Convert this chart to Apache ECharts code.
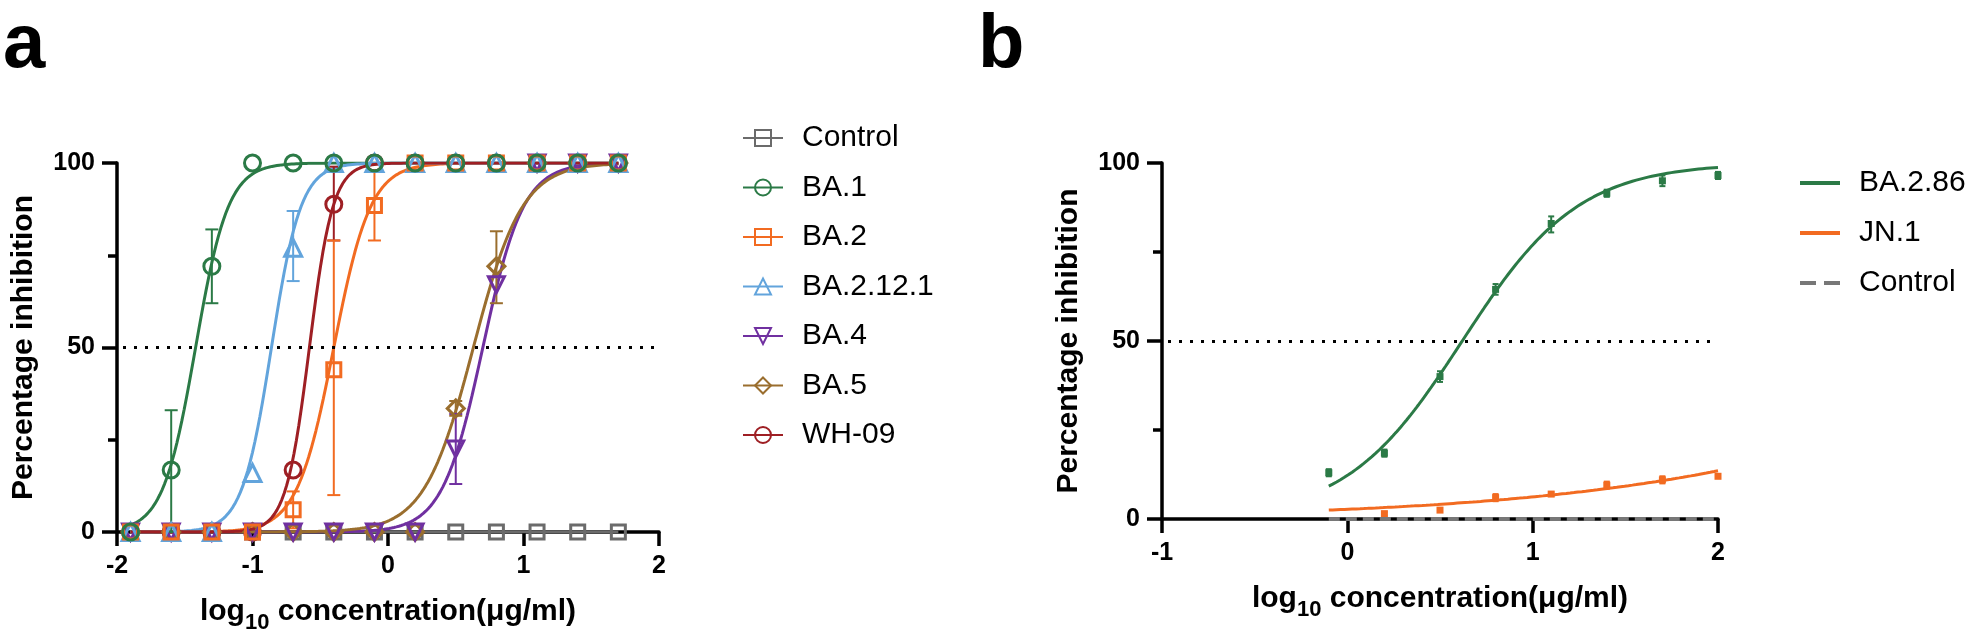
<!DOCTYPE html>
<html><head><meta charset="utf-8">
<script src="https://cdn.jsdelivr.net/npm/echarts@6/dist/echarts.min.js"></script>
<style>html,body{margin:0;padding:0;background:#fff}#c{width:1975px;height:635px}</style>
</head><body><div id="c"></div>
<script>
const FONT = '"Liberation Sans", Arial, Helvetica, sans-serif';

// ---------- Panel a data ----------
const xA = [-1.9, -1.6, -1.3, -1.0, -0.7, -0.4, -0.1, 0.2, 0.5, 0.8, 1.1, 1.4, 1.7];
const controlA = [0, 0, 0, 0, 0, 0, 0, 0, 0, 0, 0, 0, 0];
const ba1 = [0, 16.8, 72, 100, 100, 100, 100, 100, 100, 100, 100, 100, 100];
const ba2 = [0, 0, 0, 0, 6, 44, 88.5, 100, 100, 100, 100, 100, 100];
const ba2121 = [0, 0, 0, 16, 77, 100, 100, 100, 100, 100, 100, 100, 100];
const ba4 = [0, 0, 0, 0, 0, 0, 0, 0, 22.5, 67, 100, 100, 100];
const ba5 = [0, 0, 0, 0, 0, 0, 0, 0, 33.5, 72, 100, 100, 100];
const wh09 = [0, 0, 0, 0, 16.8, 88.8, 100, 100, 100, 100, 100, 100, 100];
// error bars [x, low, high]
const ba1Err = [[-1.6, 0, 33], [-1.3, 62, 82]];
const ba2Err = [[-0.7, 1, 11], [-0.4, 10, 79], [-0.1, 79, 98]];
const ba2121Err = [[-0.7, 68, 87]];
const ba4Err = [[0.5, 13, 32]];
const ba5Err = [[0.5, 31.5, 35.5], [0.8, 62, 81.5]];
const wh09Err = [[-0.4, 79, 99]];
// fitted 4PL curve parameters (bottom 0, top 100)
const fitNamesA = ['BA.1', 'BA.2', 'BA.2.12.1', 'BA.4', 'BA.5', 'WH-09'];
const fitLogIC50A = [-1.42, -0.40, -0.86, 0.70, 0.63, -0.58];
const fitHillA = [3.6, 3.2, 4.0, 2.9, 2.4, 5.0];
const legendA = ['Control', 'BA.1', 'BA.2', 'BA.2.12.1', 'BA.4', 'BA.5', 'WH-09'];

// ---------- Panel b data ----------
const xB = [-0.1, 0.2, 0.5, 0.8, 1.1, 1.4, 1.7, 2.0];
const ba286 = [13, 18.5, 40, 64.5, 83, 91.5, 95, 96.5];
const jn1 = [null, 1.5, 2.5, 6, 7, 9.5, 11, 12];
const controlB = [0, 0, 0, 0, 0, 0, 0, 0];
const ba286Err = [[-0.1, 12, 14], [0.2, 17.5, 19.5], [0.5, 38.5, 41.5], [0.8, 63, 66], [1.1, 80.5, 85], [1.4, 90.5, 92.5], [1.7, 93.5, 96.5], [2.0, 95.5, 97.5]];
const jn1Err = [[0.2, 1, 2], [0.5, 2, 3], [0.8, 5, 7], [1.1, 6.5, 7.5], [1.4, 8.5, 10.5], [1.7, 10, 12], [2.0, 11.5, 12.5]];
const fitNamesB = ['BA.2.86', 'JN.1'];
const fitLogIC50B = [0.62, 4.16];
const fitHillB = [1.38, 0.373];
const legendB = ['BA.2.86', 'JN.1', 'Control'];

const colors = {
  'Control': '#6b6b6b', 'BA.1': '#2b7a46', 'BA.2': '#f26b21', 'BA.2.12.1': '#62a4dc',
  'BA.4': '#7030a0', 'BA.5': '#9a6e2e', 'WH-09': '#9e1f24', 'BA.2.86': '#2b7a46', 'JN.1': '#f26b21'
};
const symbols = {
  'Control': ['rect', 14, 0], 'BA.1': ['circle', 16, 0], 'BA.2': ['rect', 14, 0],
  'BA.2.12.1': ['triangle', 17, 0], 'BA.4': ['triangle', 16, 180], 'BA.5': ['diamond', 17, 0], 'WH-09': ['circle', 16, 0]
};

function curve(xs, logIC50, hill) {
  const out = [];
  const n = 200;
  const x0 = xs[0], x1 = xs[xs.length - 1];
  for (let i = 0; i <= n; i++) {
    const x = x0 + (x1 - x0) * i / n;
    out.push([x, 100 / (1 + Math.pow(10, (logIC50 - x) * hill))]);
  }
  return out;
}
function pairs(xs, ys) { return xs.map((x, i) => [x, ys[i]]).filter(p => p[1] !== null); }

function errSeries(id, data, color, gi, w) {
  return {
    type: 'custom', name: 'err-' + id, xAxisIndex: gi, yAxisIndex: gi, silent: true, z: 3,
    data: data, encode: { x: 0, y: [1, 2] },
    renderItem: function (params, api) {
      const x = api.value(0), lo = api.value(1), hi = api.value(2);
      const p1 = api.coord([x, lo]), p2 = api.coord([x, hi]);
      const st = { stroke: color, lineWidth: 2 };
      return {
        type: 'group', children: [
          { type: 'line', shape: { x1: p1[0], y1: p1[1], x2: p2[0], y2: p2[1] }, style: st },
          { type: 'line', shape: { x1: p1[0] - w, y1: p1[1], x2: p1[0] + w, y2: p1[1] }, style: st },
          { type: 'line', shape: { x1: p2[0] - w, y1: p2[1], x2: p2[0] + w, y2: p2[1] }, style: st }
        ]
      };
    }
  };
}

const hollow = c => ({ color: 'rgba(0,0,0,0)', borderColor: c, borderWidth: 3, opacity: 1 });

const series = [];
series.push({
  type: 'line', name: 'Control', xAxisIndex: 0, yAxisIndex: 0, data: pairs(xA, controlA),
  color: colors['Control'], symbol: 'rect', symbolSize: 14, showSymbol: true, silent: true,
  itemStyle: hollow(colors['Control']), lineStyle: { color: colors['Control'], width: 3 }, z: 2,
  markLine: {
    silent: true, symbol: 'none', label: { show: false },
    lineStyle: { type: [3, 8], width: 3, color: '#000', dashOffset: -6 }, data: [{ yAxis: 50 }]
  }
});
const dataA = { 'BA.1': ba1, 'BA.2': ba2, 'BA.2.12.1': ba2121, 'BA.4': ba4, 'BA.5': ba5, 'WH-09': wh09 };
const errA = { 'BA.1': ba1Err, 'BA.2': ba2Err, 'BA.2.12.1': ba2121Err, 'BA.4': ba4Err, 'BA.5': ba5Err, 'WH-09': wh09Err };
fitNamesA.forEach((nm, i) => {
  const c = colors[nm], s = symbols[nm];
  series.push({
    type: 'line', name: nm, xAxisIndex: 0, yAxisIndex: 0, data: curve(xA, fitLogIC50A[i], fitHillA[i]),
    color: c, symbol: s[0], symbolSize: s[1], symbolRotate: s[2], showSymbol: false, silent: true,
    itemStyle: hollow(c), lineStyle: { color: c, width: 3 }, z: 2
  });
});
['WH-09', 'BA.5', 'BA.4', 'BA.2.12.1', 'BA.2', 'BA.1'].forEach(nm => {
  const c = colors[nm], s = symbols[nm];
  series.push(errSeries(nm, errA[nm], c, 0, 6.5));
  series.push({
    type: 'scatter', name: 'pts-' + nm, xAxisIndex: 0, yAxisIndex: 0, data: pairs(xA, dataA[nm]),
    symbol: s[0], symbolSize: s[1], symbolRotate: s[2], silent: true, itemStyle: hollow(c), z: 4
  });
});

const dataB = { 'BA.2.86': ba286, 'JN.1': jn1 };
const errB = { 'BA.2.86': ba286Err, 'JN.1': jn1Err };
fitNamesB.forEach((nm, i) => {
  const c = colors[nm];
  series.push({
    type: 'line', name: nm, xAxisIndex: 1, yAxisIndex: 1, data: curve(xB, fitLogIC50B[i], fitHillB[i]),
    color: c, showSymbol: false, symbol: 'none', silent: true, lineStyle: { color: c, width: 3 }, z: 2,
    markLine: i === 0 ? {
      silent: true, symbol: 'none', label: { show: false },
      lineStyle: { type: [3, 8], width: 3, color: '#000', dashOffset: -6 }, data: [{ yAxis: 50 }]
    } : undefined
  });
  series.push(errSeries(nm, errB[nm], c, 1, 3));
  series.push({
    type: 'scatter', name: 'pts-' + nm, xAxisIndex: 1, yAxisIndex: 1, data: pairs(xB, dataB[nm]),
    symbol: 'rect', symbolSize: 7, silent: true, itemStyle: { color: c, opacity: 1 }, z: 4
  });
});
series.push({
  type: 'line', name: 'Control', xAxisIndex: 1, yAxisIndex: 1, data: pairs(xB, controlB),
  color: '#777', symbol: 'none', showSymbol: false, silent: true,
  lineStyle: { color: '#777', width: 4, type: [11, 6] }, z: 5
});

function xAxisCfg(gi, min, max) {
  return {
    type: 'value', gridIndex: gi, min: min, max: max, interval: 1,
    axisLine: { show: true, onZero: true, lineStyle: { color: '#000', width: 3.5 } },
    axisTick: { show: true, length: 14, lineStyle: { color: '#000', width: 3.5 } },
    axisLabel: { show: true, color: '#000', fontSize: 25, fontWeight: 'bold', fontFamily: FONT, margin: 22 },
    splitLine: { show: false },
    name: 'log{sub|10} concentration(μg/ml)', nameLocation: 'middle', nameGap: 58,
    nameTextStyle: {
      color: '#000', fontSize: 30, fontWeight: 'bold', fontFamily: FONT, lineHeight: 44, verticalAlign: 'top',
      rich: { sub: { fontSize: 22, fontWeight: 'bold', fontFamily: FONT, color: '#000', verticalAlign: 'bottom', lineHeight: 44 } }
    }
  };
}
function yAxisCfg(gi) {
  return {
    type: 'value', gridIndex: gi, min: 0, max: 100, interval: 50,
    axisLine: { show: true, onZero: false, lineStyle: { color: '#000', width: 3.5 } },
    axisTick: { show: true, length: 15, lineStyle: { color: '#000', width: 3.5 } },
    minorTick: { show: true, splitNumber: 2, length: 9, lineStyle: { color: '#000', width: 3.5 } },
    minorSplitLine: { show: false },
    axisLabel: { show: true, color: '#000', fontSize: 25, fontWeight: 'bold', fontFamily: FONT, margin: 22 },
    splitLine: { show: false },
    name: 'Percentage inhibition', nameLocation: 'middle', nameGap: 78,
    nameTextStyle: { color: '#000', fontSize: 30, fontWeight: 'bold', fontFamily: FONT }
  };
}

const option = {
  animation: false,
  backgroundColor: '#fff',
  grid: [
    { left: 117, top: 163, width: 542, height: 369, outerBoundsMode: 'none', containLabel: false },
    { left: 1162, top: 163, width: 556, height: 356, outerBoundsMode: 'none', containLabel: false }
  ],
  xAxis: [xAxisCfg(0, -2, 2), xAxisCfg(1, -1, 2)],
  yAxis: [yAxisCfg(0), yAxisCfg(1)],
  legend: [
    {
      data: legendA, orient: 'vertical', left: 742, top: 123, itemWidth: 40, itemHeight: 20, itemGap: 19.5,
      padding: 0, selectedMode: false,
      textStyle: { color: '#000', fontSize: 30, fontFamily: FONT, lineHeight: 30, padding: [0, 0, 0, 14] }
    },
    {
      data: [
        { name: 'BA.2.86', icon: 'rect', itemStyle: { color: colors['BA.2.86'] } },
        { name: 'JN.1', icon: 'rect', itemStyle: { color: colors['JN.1'] } },
        { name: 'Control', icon: 'path://M0,0H16V4H0Z M24,0H40V4H24Z', itemStyle: { color: '#777', borderWidth: 0 } }
      ],
      orient: 'vertical', left: 1800, top: 168, itemWidth: 40, itemHeight: 4, itemGap: 20,
      padding: 0, selectedMode: false,
      textStyle: { color: '#000', fontSize: 30, fontFamily: FONT, lineHeight: 30, padding: [0, 0, 0, 14] }
    }
  ],
  graphic: [
    { type: 'text', left: 3, top: 8, style: { text: 'a', font: 'bold 76px ' + FONT, fill: '#000' } },
    { type: 'text', left: 978, top: 8, style: { text: 'b', font: 'bold 76px ' + FONT, fill: '#000' } }
  ],
  series: series
};
const chart = echarts.init(document.getElementById('c'), null, { renderer: 'canvas' });
chart.setOption(option);
</script></body></html>
